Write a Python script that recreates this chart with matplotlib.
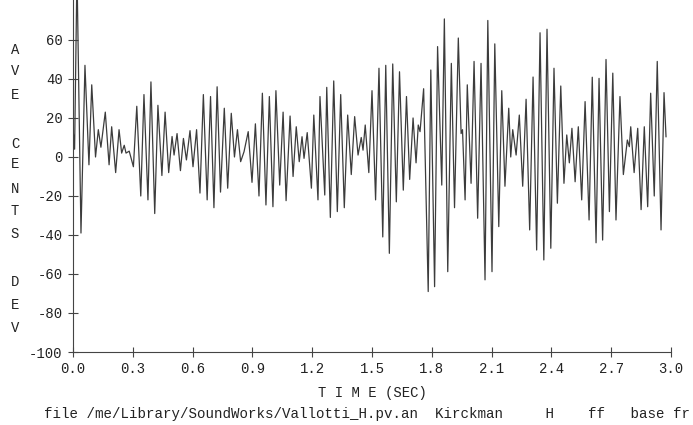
import matplotlib
matplotlib.use('Agg')
import matplotlib.pyplot as plt

# Peaks and troughs of the pitch deviation trace
times = [0.002, 0.008, 0.020, 0.040, 0.060, 0.080, 0.094, 0.113, 0.127, 0.140,
         0.162, 0.181, 0.194, 0.214, 0.231, 0.244, 0.257, 0.266, 0.282, 0.303,
         0.320, 0.340, 0.356, 0.376, 0.391, 0.410, 0.426, 0.446, 0.462, 0.480,
         0.497, 0.507, 0.522, 0.539, 0.554, 0.569, 0.587, 0.602, 0.620, 0.637,
         0.654, 0.673, 0.690, 0.707, 0.723, 0.740, 0.759, 0.776, 0.794, 0.810,
         0.825, 0.841, 0.858, 0.879, 0.898, 0.915, 0.933, 0.950, 0.968, 0.985,
         1.003, 1.018, 1.037, 1.054, 1.069, 1.089, 1.104, 1.120, 1.135, 1.149,
         1.159, 1.175, 1.196, 1.208, 1.229, 1.239, 1.263, 1.273, 1.291, 1.308,
         1.326, 1.343, 1.361, 1.378, 1.396, 1.413, 1.430, 1.446, 1.455, 1.466,
         1.484, 1.500, 1.518, 1.535, 1.554, 1.569, 1.587, 1.604, 1.622, 1.638,
         1.657, 1.673, 1.689, 1.706, 1.721, 1.732, 1.741, 1.759, 1.782, 1.795,
         1.814, 1.829, 1.850, 1.863, 1.880, 1.898, 1.914, 1.933, 1.947, 1.954,
         1.967, 1.978, 1.997, 2.012, 2.030, 2.047, 2.067, 2.081, 2.102, 2.116,
         2.136, 2.151, 2.167, 2.186, 2.196, 2.206, 2.223, 2.239, 2.256, 2.273,
         2.291, 2.308, 2.326, 2.343, 2.362, 2.378, 2.397, 2.413, 2.430, 2.447,
         2.463, 2.477, 2.490, 2.503, 2.519, 2.535, 2.552, 2.569, 2.589, 2.605,
         2.624, 2.639, 2.657, 2.674, 2.691, 2.708, 2.724, 2.744, 2.761, 2.781,
         2.791, 2.798, 2.815, 2.833, 2.850, 2.866, 2.883, 2.898, 2.916, 2.931,
         2.950, 2.965, 2.975]
cents = [12, 4, 95, -39, 47, -4, 37, 0, 14, 5,
         23, -4, 15.5, -8, 14, 2, 6, 2, 3, -5,
         26, -20, 32, -22, 38.5, -29, 26.5, -9.5, 23, -8,
         10.5, 1, 12, -7, 9.5, -1.5, 13.5, -5, 14, -18.5,
         32, -22, 31, -26, 36, -18, 25, -16, 22.4, 0,
         14, -2.4, 2.7, 13, -13, 17, -20, 32.7, -24.6, 31,
         -25.5, 34, -14.4, 23, -22.4, 21, -10, 15.5, -2.4, 10.4,
         -0.7, 12.5, -16, 21.5, -22, 31, -19.5, 35.7, -31, 39,
         -28, 32, -26, 21.5, -9, 20.7, 1, 10, 3.5, 16.4,
         -8, 34, -22, 45.5, -41, 47, -49.4, 47.7, -23, 43.7,
         -17, 31, -11.5, 20, -3, 16.4, 13, 35, -69, 44.6,
         -66.5, 56.6, -14.4, 70.8, -58.8, 48, -26, 61, 12, 14,
         -22, 37, -13.5, 49, -31.4, 48, -63, 70, -58.8, 58,
         -35.7, 34, -15, 25, 0, 14, 1, 21.5, -15, 29.6,
         -37.4, 41, -47.7, 63.7, -52.8, 65.5, -46.8, 45.5, -23.7, 36.4,
         -13.5, 11.3, -3, 14.7, -12.7, 15.5, -22, 28.4, -32.3, 40.9,
         -44, 40.3, -42.6, 50, -28, 43, -32.3, 31, -9, 8.7,
         5.3, 15.5, -8, 14.7, -27, 15.5, -25.5, 32.7, -20, 49,
         -37.4, 33, 10.4]

x_ticks = [0.0, 0.3, 0.6, 0.9, 1.2, 1.5, 1.8, 2.1, 2.4, 2.7, 3.0]
y_ticks = [-100, -80, -60, -40, -20, 0, 20, 40, 60]
side_letters = ['A', 'V', 'E', 'C', 'E', 'N', 'T', 'S', 'D', 'E', 'V']
letter_rows = [50, 71, 95, 144, 164, 189, 211, 234, 282, 305, 328]  # pixel rows from top

plt.rcParams['font.family'] = ['Liberation Mono', 'DejaVu Sans Mono']
plt.rcParams['axes.unicode_minus'] = False

W, H = 693, 425
fig = plt.figure(figsize=(W / 100, H / 100), dpi=100)
ax = fig.add_axes([73 / W, (H - 352) / H, (671 - 73) / W, 352 / H])

ax.plot(times, cents, color='#3c3c3c', linewidth=0.9)

ax.set_xlim(0, 3.0)
ax.set_ylim(-100, 80.5)
ax.set_xticks(x_ticks)
ax.set_xticklabels([f'{t:.1f}' for t in x_ticks])
ax.set_yticks(y_ticks)
ax.set_yticklabels([str(v) for v in y_ticks])
ax.tick_params(direction='inout', length=7, width=0.8, color='#444444',
               labelsize=10, labelcolor='#222222', pad=4)

for side in ['top', 'right']:
    ax.spines[side].set_visible(False)
for side in ['left', 'bottom']:
    ax.spines[side].set_color('#444444')
    ax.spines[side].set_linewidth(0.8)

# stacked axis caption on the left
for letter, row in zip(side_letters, letter_rows):
    fig.text(15 / W, 1 - row / H, letter, ha='center', va='center',
             fontsize=10, color='#222222')

fig.text(372 / W, 1 - 393 / H, 'T I M E (SEC)', ha='center', va='center',
         fontsize=10, color='#222222')
# the scan cuts this line at the right edge
fig.text(44 / W, 1 - 414 / H,
         'file /me/Library/SoundWorks/Vallotti_H.pv.an  Kirckman     H    ff   base fr',
         ha='left', va='center', fontsize=10.2, color='#222222')

fig.savefig('out.png', dpi=100)
